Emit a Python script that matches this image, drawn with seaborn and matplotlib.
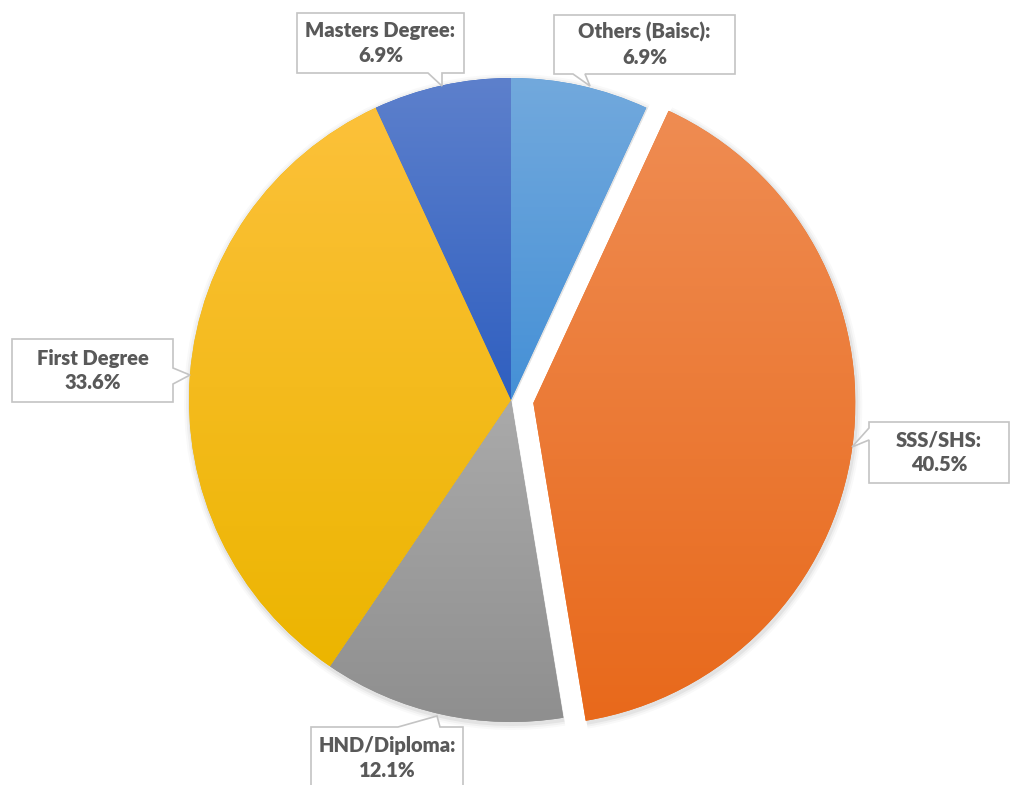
import numpy as np
import matplotlib
matplotlib.use("Agg")
import matplotlib.pyplot as plt
from matplotlib.patches import Polygon, Wedge
from matplotlib.colors import LinearSegmentedColormap
import seaborn as sns

# Education level shares (%), clockwise from 12 o'clock
categories = ["Others (Baisc)", "SSS/SHS", "HND/Diploma", "First Degree", "Masters Degree"]
shares = [6.9, 40.5, 12.1, 33.6, 6.9]
label_suffix = [":", ":", ":", "", ":"]

# top / bottom gradient colours per slice
top_colors = ["#72a9dd", "#ef8c52", "#aaaaaa", "#fcc13a", "#5d80cc"]
bottom_colors = ["#4590d6", "#e8691b", "#8f8f8f", "#ecb500", "#2f5fc0"]
explode_frac = [0, 0.07, 0, 0, 0]

sns.set_theme(style="white")
plt.rcParams["font.family"] = ["Lato", "DejaVu Sans"]

W, H = 1012, 785
fig = plt.figure(figsize=(W / 100, H / 100), dpi=100)
ax = fig.add_axes([0, 0, 1, 1])


def Y(y):
    return H - y


cx, cy, R = 511, Y(400), 322

# pie offsets are in data units, so scale by the radius
wedges, _ = ax.pie(shares, colors=bottom_colors, startangle=90, counterclock=False,
                   explode=[e * R for e in explode_frac], radius=R, center=(cx, cy),
                   frame=True, wedgeprops=dict(linewidth=0, edgecolor="none"))
ax.set_xlim(0, W)
ax.set_ylim(0, H)
ax.axis("off")

# soft shadow behind slices
for w in wedges:
    for k, a in [(6, 0.025), (4, 0.035), (2, 0.05)]:
        c = w.center
        ax.add_patch(Wedge((c[0] + 1, c[1] - 2), w.r + k, w.theta1, w.theta2,
                           facecolor="#000000", alpha=a, linewidth=0, zorder=0))

# vertical gradient fill clipped to each slice
for w, ct, cb in zip(wedges, top_colors, bottom_colors):
    ext = w.get_path().transformed(w.get_patch_transform()).get_extents()
    cmap = LinearSegmentedColormap.from_list("g", [cb, ct])
    grad = np.linspace(0, 1, 256).reshape(-1, 1)
    im = ax.imshow(grad, cmap=cmap, origin="lower", aspect="auto",
                   extent=(ext.x0, ext.x1, ext.y0, ext.y1), zorder=2,
                   interpolation="bilinear")
    im.set_clip_path(w)
ax.set_xlim(0, W)
ax.set_ylim(0, H)


def callout(x0, y0, x1, y1, side, b0, b1, tip):
    if side == "bottom":
        pts = [(x0, y0), (x1, y0), (x1, y1), (b1, y1), tip, (b0, y1), (x0, y1)]
    elif side == "top":
        pts = [(x0, y0), (b0, y0), tip, (b1, y0), (x1, y0), (x1, y1), (x0, y1)]
    elif side == "left":
        pts = [(x0, y0), (x1, y0), (x1, y1), (x0, y1), (x0, b1), tip, (x0, b0)]
    else:
        pts = [(x0, y0), (x1, y0), (x1, b0), tip, (x1, b1), (x1, y1), (x0, y1)]
    pts = [(px, Y(py)) for px, py in pts]
    ax.add_patch(Polygon(pts, closed=True, facecolor="white", edgecolor="#c4c4c4",
                         linewidth=1.2, zorder=5))


# label boxes: (x0, y0, x1, y1, side, base0, base1, tip)
boxes = [
    (554, 15, 735, 74, "bottom", 573, 585, (590, 86)),
    (869, 422, 1009, 483, "left", 428, 440, (852, 447)),
    (311, 727, 463, 800, "top", 398, 440, (437, 716)),
    (12, 339, 173, 402, "right", 368, 384, (190, 375)),
    (297, 13, 464, 73, "bottom", 428, 442, (442, 86)),
]

for cat, val, suf, b in zip(categories, shares, label_suffix, boxes):
    callout(*b)
    x0, y0, x1, y1 = b[:4]
    ymid = (y0 + y1) / 2 if b[4] != "top" else 758
    ax.text((x0 + x1) / 2, Y(ymid), f"{cat}{suf}\n{val}%", ha="center", va="center",
            fontsize=14.5, fontweight="heavy", color="#595959", linespacing=1.33, zorder=6)

fig.savefig("out.png", dpi=100)
